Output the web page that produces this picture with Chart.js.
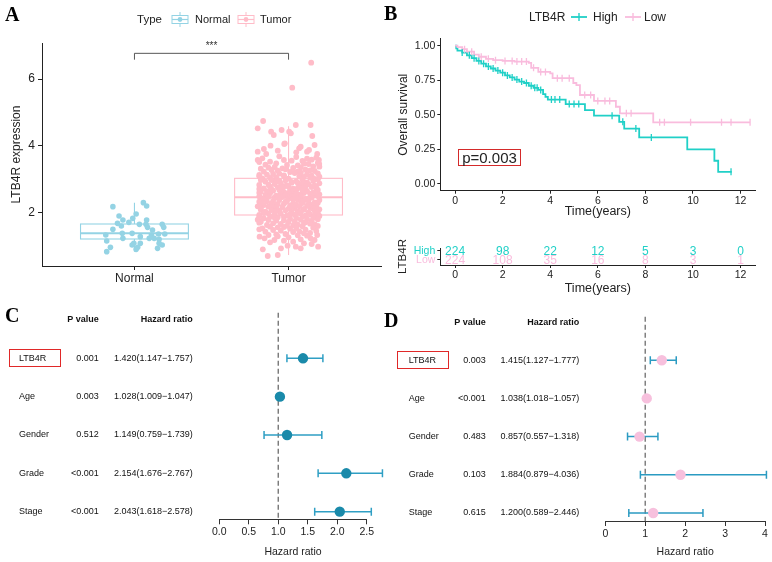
<!DOCTYPE html>
<html><head><meta charset="utf-8">
<script src="https://cdn.jsdelivr.net/npm/chart.js@4.4.0/dist/chart.umd.min.js"></script>
<style>
body{margin:0;background:#fff;width:772px;height:562px;position:relative;overflow:hidden;font-family:"Liberation Sans",Arial,sans-serif;color:#222;}
canvas{position:absolute;}
.abs{position:absolute;white-space:nowrap;line-height:14px;}
.letter{position:absolute;font-family:"Liberation Serif","Times New Roman",serif;font-weight:bold;font-size:20px;line-height:20px;color:#000;}
.redbox{position:absolute;border:1.5px solid #E02828;}
svg{position:absolute;}
</style></head><body>
<canvas id="cA" width="386" height="290" style="left:0;top:0"></canvas>
<canvas id="cB" width="386" height="222" style="left:386px;top:0"></canvas>
<canvas id="cR" width="386" height="78" style="left:386px;top:222px"></canvas>
<canvas id="cC" width="386" height="262" style="left:0;top:300px"></canvas>
<canvas id="cD" width="386" height="262" style="left:386px;top:300px"></canvas>

<div class="letter" style="left:5px;top:4px">A</div>
<div class="letter" style="left:384px;top:3px">B</div>
<div class="letter" style="left:5px;top:305px">C</div>
<div class="letter" style="left:384px;top:310px">D</div>

<!-- legend A -->
<div class="abs" style="left:137px;top:12px;font-size:11.5px">Type</div>
<svg style="left:171px;top:12px" width="18" height="15"><line x1="9" y1="0" x2="9" y2="3.5" stroke="#94D3E4" stroke-width="1"/><line x1="9" y1="11.5" x2="9" y2="15" stroke="#94D3E4" stroke-width="1"/><rect x="1" y="3.5" width="16" height="8" fill="none" stroke="#94D3E4" stroke-width="1"/><line x1="1" y1="7.5" x2="17" y2="7.5" stroke="#94D3E4" stroke-width="1.2"/><circle cx="9" cy="7.5" r="2.4" fill="#94D3E4"/></svg>
<div class="abs" style="left:195px;top:12px;font-size:11px">Normal</div>
<svg style="left:237px;top:12px" width="18" height="15"><line x1="9" y1="0" x2="9" y2="3.5" stroke="#FFBCC8" stroke-width="1"/><line x1="9" y1="11.5" x2="9" y2="15" stroke="#FFBCC8" stroke-width="1"/><rect x="1" y="3.5" width="16" height="8" fill="none" stroke="#FFBCC8" stroke-width="1"/><line x1="1" y1="7.5" x2="17" y2="7.5" stroke="#FFBCC8" stroke-width="1.2"/><circle cx="9" cy="7.5" r="2.4" fill="#FFBCC8"/></svg>
<div class="abs" style="left:260px;top:12px;font-size:11px">Tumor</div>

<!-- legend B -->
<div class="abs" style="left:529px;top:10px;font-size:12px">LTB4R</div>
<svg style="left:571px;top:12px" width="16" height="10"><line x1="0" y1="5" x2="16" y2="5" stroke="#20D0C7" stroke-width="1.8"/><line x1="8" y1="1" x2="8" y2="9" stroke="#20D0C7" stroke-width="1.4"/></svg>
<div class="abs" style="left:593px;top:10px;font-size:12px">High</div>
<svg style="left:625px;top:12px" width="16" height="10"><line x1="0" y1="5" x2="16" y2="5" stroke="#F9BCDD" stroke-width="1.8"/><line x1="8" y1="1" x2="8" y2="9" stroke="#F9BCDD" stroke-width="1.4"/></svg>
<div class="abs" style="left:644px;top:10px;font-size:12px">Low</div>

<div class="abs" style="left:458px;top:149px;width:61px;height:15px;border:1px solid #D42A2A;font-size:15px;line-height:15px;text-align:center">p=0.003</div>

<div class="redbox" style="left:9px;top:349px;width:50px;height:16px"></div>
<div class="redbox" style="left:397px;top:351px;width:50px;height:16px"></div>

<script>
// ---------- Panel A data ----------
const groupNames = ['Normal', 'Tumor'];
const yTicksA = [2, 4, 6];
// [min, q1, median, q3, max]
const normalBox = [0.82, 1.20, 1.37, 1.65, 2.29];
const tumorBox = [0.72, 1.92, 2.45, 3.02, 4.58];
// [expression, jitter]
const normalPoints = [
 [2.17,-0.14],[2.29,0.058],[2.19,0.079],[1.89,-0.10],[1.77,-0.075],[1.95,0.011],[1.82,-0.011],[1.77,0.079],
 [1.70,-0.036],[1.67,-0.11],[1.59,-0.085],[1.64,0.032],[1.64,0.075],[1.64,0.18],[1.55,0.19],[1.49,-0.14],
 [1.47,0.117],[1.37,-0.079],[1.37,-0.015],[1.27,0.038],[1.32,0.11],[1.35,0.156],[1.35,0.197],[1.32,-0.186],
 [1.22,0.096],[1.22,0.128],[1.19,0.16],[1.14,-0.18],[1.07,-0.004],[1.07,0.038],[1.07,0.16],[1.02,0.18],
 [0.95,-0.156],[0.95,0.021],[1.02,-0.015],[0.92,0.15],[0.82,-0.18],[0.89,0.011],[1.22,-0.075],[1.55,0.085]
];
const tumorPoints = [
 [6.49,0.147],[5.74,0.024],[4.74,-0.165],[4.52,-0.2],[4.62,0.047],[4.62,0.143],[4.42,-0.113],[4.47,-0.045],[4.37,0.015],[4.29,0.154],[4.32,-0.096],[4.05,-0.028],[4.0,-0.117],[3.97,0.079],[4.02,0.169],[3.82,-0.2],[3.75,-0.145],[3.85,-0.07],[3.75,0.186],[3.82,0.12],[3.57,-0.2],[3.57,0.197],[3.45,0.199],
 [4.07,-0.024],[3.92,0.069],[3.87,0.133],[4.42,0.004],[3.9,-0.16],[3.8,0.05],
 [0.69,-0.135],[0.72,-0.07],[0.89,-0.167],[0.92,-0.049],[0.97,0.047],[0.92,0.079],[0.97,0.192],[1.07,0.1],[1.0,-0.006],[1.22,-0.156],[1.17,-0.092],[1.19,0.079],[1.22,0.143],[1.32,0.186],
 [1.27,-0.188],[1.17,0.169],[1.12,0.03],[1.1,-0.12],[1.25,0.0],[1.3,0.12],[1.28,-0.07],[1.05,0.15],[1.15,-0.03],
 [3.62,-0.17],[3.66,0.05],[3.61,0.12],[3.68,-0.06],[3.64,0.18],
 [3.52,-0.12],[3.55,0.02],[3.58,0.15],[3.51,-0.19],[3.54,0.09],[3.57,-0.03],
 [3.43,-0.15],[3.41,0.06],[3.47,-0.08],[3.45,0.13],[3.48,0.19],[3.42,-0.01],[3.46,0.1],
 [3.31,-0.18],[3.36,-0.09],[3.33,0.03],[3.38,0.16],[3.35,0.08],[3.32,-0.04],[3.37,0.2],[3.34,-0.13],
 [3.22,-0.16],[3.25,-0.07],[3.21,0.01],[3.28,0.11],[3.24,0.17],[3.27,-0.11],[3.23,0.06],[3.29,-0.02],[3.26,0.14],
 [3.12,-0.19],[3.15,-0.1],[3.11,-0.03],[3.18,0.04],[3.14,0.12],[3.17,0.19],[3.13,-0.14],[3.19,0.08],[3.16,-0.06],[3.1,0.15],
 [3.02,-0.17],[3.05,-0.08],[3.01,0.0],[3.08,0.07],[3.04,0.14],[3.07,0.2],[3.03,-0.12],[3.09,-0.03],[3.06,0.1],[3.0,0.17],[3.08,-0.19],
 [2.92,-0.15],[2.95,-0.06],[2.91,0.02],[2.98,0.09],[2.94,0.16],[2.97,-0.11],[2.93,0.05],[2.99,0.19],[2.96,-0.02],[2.9,0.12],[2.97,-0.18],[2.93,-0.08],
 [2.82,-0.19],[2.85,-0.09],[2.81,-0.01],[2.88,0.06],[2.84,0.13],[2.87,0.2],[2.83,-0.13],[2.89,0.02],[2.86,0.1],[2.8,0.17],[2.87,-0.05],[2.83,0.08],
 [2.72,-0.16],[2.75,-0.07],[2.71,0.03],[2.78,0.11],[2.74,0.18],[2.77,-0.12],[2.73,0.06],[2.79,-0.02],[2.76,0.15],[2.7,-0.19],[2.78,0.0],[2.74,-0.04],[2.71,0.09],
 [2.62,-0.18],[2.65,-0.1],[2.61,-0.03],[2.68,0.05],[2.64,0.12],[2.67,0.19],[2.63,-0.14],[2.69,0.01],[2.66,0.09],[2.6,0.16],[2.67,-0.06],[2.63,0.03],[2.69,-0.11],
 [2.52,-0.15],[2.55,-0.05],[2.51,0.02],[2.58,0.1],[2.54,0.17],[2.57,-0.12],[2.53,0.07],[2.59,-0.19],[2.56,0.14],[2.5,-0.08],[2.58,0.0],[2.54,0.2],[2.51,-0.02],[2.57,0.05],
 [2.42,-0.17],[2.45,-0.09],[2.41,0.0],[2.48,0.08],[2.44,0.15],[2.47,-0.13],[2.43,0.04],[2.49,0.19],[2.46,-0.04],[2.4,0.11],[2.48,-0.19],[2.44,-0.07],[2.41,0.13],[2.47,0.02],
 [2.32,-0.19],[2.35,-0.1],[2.31,-0.02],[2.38,0.06],[2.34,0.13],[2.37,0.2],[2.33,-0.14],[2.39,0.03],[2.36,0.1],[2.3,0.17],[2.37,-0.06],[2.33,0.08],[2.39,-0.16],[2.35,-0.01],
 [2.22,-0.16],[2.25,-0.07],[2.21,0.01],[2.28,0.09],[2.24,0.16],[2.27,-0.11],[2.23,0.05],[2.29,0.19],[2.26,-0.03],[2.2,0.12],[2.28,-0.18],[2.24,-0.09],[2.21,0.14],[2.27,0.03],
 [2.12,-0.18],[2.15,-0.08],[2.11,0.0],[2.18,0.07],[2.14,0.14],[2.17,-0.13],[2.13,0.04],[2.19,0.18],[2.16,-0.04],[2.1,0.1],[2.18,-0.2],[2.14,-0.1],[2.11,0.16],[2.17,0.02],
 [2.02,-0.15],[2.05,-0.06],[2.01,0.02],[2.08,0.1],[2.04,0.17],[2.07,-0.11],[2.03,0.06],[2.09,0.2],[2.06,-0.02],[2.0,0.13],[2.08,-0.18],[2.04,-0.08],[2.01,0.08],
 [1.92,-0.19],[1.95,-0.09],[1.91,-0.01],[1.98,0.07],[1.94,0.14],[1.97,-0.13],[1.93,0.04],[1.99,0.19],[1.96,-0.05],[1.9,0.11],[1.98,-0.16],[1.94,0.01],[1.91,0.17],
 [1.82,-0.16],[1.85,-0.07],[1.81,0.01],[1.88,0.09],[1.84,0.16],[1.87,-0.12],[1.83,0.05],[1.89,0.2],[1.86,-0.03],[1.8,0.12],[1.88,-0.19],[1.84,-0.09],
 [1.72,-0.18],[1.75,-0.08],[1.71,0.0],[1.78,0.08],[1.74,0.15],[1.77,-0.13],[1.73,0.04],[1.79,0.19],[1.76,-0.03],[1.7,0.11],[1.78,-0.2],
 [1.62,-0.14],[1.65,-0.05],[1.61,0.03],[1.68,0.1],[1.64,0.17],[1.67,-0.1],[1.63,0.06],[1.69,-0.19],[1.66,0.14],[1.6,-0.01],
 [1.52,-0.17],[1.55,-0.07],[1.51,0.01],[1.58,0.09],[1.54,0.16],[1.57,-0.12],[1.53,0.05],[1.59,0.19],[1.56,-0.03],
 [1.42,-0.15],[1.45,-0.05],[1.41,0.03],[1.48,0.11],[1.44,0.18],[1.47,-0.1],[1.43,0.07],[1.49,-0.19],
 [1.32,-0.13],[1.35,-0.02],[1.31,0.06],[1.38,0.14],[1.34,-0.08],[1.37,0.1]
];

// ---------- Panel B data ----------
const kmTicksX = [0, 2, 4, 6, 8, 10, 12];
const kmTicksY = [0, 0.25, 0.5, 0.75, 1];
// [time, survival] steps
const highCurve = [
 [0,1.0],[0.05,0.98],[0.1,0.964],[0.3,0.95],[0.5,0.93],[0.7,0.91],[0.9,0.89],[1.1,0.87],[1.3,0.85],[1.5,0.835],
 [1.7,0.82],[1.9,0.805],[2.1,0.785],[2.3,0.77],[2.5,0.755],[2.7,0.74],[2.9,0.73],[3.1,0.71],[3.3,0.695],[3.5,0.68],
 [3.7,0.65],[3.8,0.63],[3.9,0.61],[4.65,0.577],[5.46,0.534],[5.84,0.493],[6.9,0.449],[7.11,0.40],[7.74,0.336],
 [9.76,0.249],[10.9,0.167],[11.06,0.087],[11.63,0.087]
];
const lowCurve = [
 [0,1.0],[0.1,0.99],[0.3,0.975],[0.5,0.957],[0.8,0.935],[1.0,0.92],[1.3,0.905],[1.6,0.895],[2.0,0.89],[2.5,0.885],
 [3.1,0.875],[3.2,0.84],[3.5,0.81],[4.0,0.80],[4.1,0.765],[4.97,0.73],[5.1,0.715],[5.25,0.643],[5.84,0.60],
 [6.76,0.558],[6.93,0.51],[8.33,0.445],[12.4,0.445]
];
const highCensor = [
 [0.3,0.95],[0.6,0.93],[0.8,0.91],[1.0,0.89],[1.2,0.87],[1.4,0.85],[1.6,0.835],[1.8,0.82],[2.0,0.805],[2.2,0.785],
 [2.4,0.77],[2.6,0.755],[2.8,0.74],[3.0,0.73],[3.2,0.71],[3.35,0.695],[3.45,0.695],[3.6,0.68],[4.05,0.61],[4.2,0.61],
 [4.4,0.61],[4.8,0.577],[5.0,0.577],[5.2,0.577],[6.6,0.493],[7.05,0.449],[7.6,0.40],[8.25,0.336],[11.6,0.087]
];
const lowCensor = [
 [0.4,0.975],[0.7,0.957],[1.1,0.92],[1.4,0.905],[1.7,0.895],[2.1,0.89],[2.4,0.89],[2.6,0.885],[2.8,0.885],[3.0,0.885],
 [3.3,0.84],[3.6,0.81],[3.8,0.81],[4.3,0.765],[4.5,0.765],[4.8,0.765],[5.45,0.643],[5.7,0.643],[6.0,0.60],[6.3,0.60],
 [6.5,0.60],[7.2,0.51],[7.4,0.51],[8.6,0.445],[8.8,0.445],[9.9,0.445],[11.2,0.445],[11.6,0.445],[12.4,0.445]
];
const riskTimes = [0, 2, 4, 6, 8, 10, 12];
const riskHigh = [224, 98, 22, 12, 5, 3, 0];
const riskLow = [224, 108, 35, 16, 8, 3, 1];

// ---------- Panels C / D data ----------
const forestVars = ['LTB4R', 'Age', 'Gender', 'Grade', 'Stage'];
const pC = ['0.001', '0.003', '0.512', '<0.001', '<0.001'];
const hrC = [1.420, 1.028, 1.149, 2.154, 2.043];
const loC = [1.147, 1.009, 0.759, 1.676, 1.618];
const hiC = [1.757, 1.047, 1.739, 2.767, 2.578];
const ticksC = [0, 0.5, 1.0, 1.5, 2.0, 2.5];
const pD = ['0.003', '<0.001', '0.483', '0.103', '0.615'];
const hrD = [1.415, 1.038, 0.857, 1.884, 1.200];
const loD = [1.127, 1.018, 0.557, 0.879, 0.589];
const hiD = [1.777, 1.057, 1.318, 4.036, 2.446];
const ticksD = [0, 1, 2, 3, 4];

// ---------- styles ----------
const NORMAL_C = '#94D3E4', TUMOR_C = '#FFBCC8';
const HIGH_C = '#20D0C7', LOW_C = '#F9BCDD';
const AX = '#222';
const FONT = "'Liberation Sans', Arial, Helvetica, sans-serif";
Chart.defaults.font.family = FONT;
Chart.defaults.color = AX;

const base = {responsive:false, devicePixelRatio:1, animation:false,
  plugins:{legend:{display:false}, tooltip:{enabled:false}}};
function axis(extra){
  return Object.assign({type:'linear', grid:{drawOnChartArea:false, color:AX, tickLength:4},
    border:{display:true, color:AX, width:1}}, extra);
}

// ---------- A ----------
const boxPlugin = {
  id:'boxes',
  beforeDatasetsDraw(chart){
    const {ctx, scales:{x, y}} = chart;
    [[normalBox, NORMAL_C], [tumorBox, TUMOR_C]].forEach(([s, col], i) => {
      const cx = x.getPixelForValue(i + 1);
      const hw = x.getPixelForValue(i + 1.35) - cx;
      ctx.save(); ctx.strokeStyle = col; ctx.lineWidth = 1.1;
      ctx.beginPath();
      ctx.moveTo(cx, y.getPixelForValue(s[3])); ctx.lineTo(cx, y.getPixelForValue(s[4]));
      ctx.moveTo(cx, y.getPixelForValue(s[1])); ctx.lineTo(cx, y.getPixelForValue(s[0]));
      ctx.stroke();
      ctx.strokeRect(cx - hw, y.getPixelForValue(s[3]), 2 * hw, y.getPixelForValue(s[1]) - y.getPixelForValue(s[3]));
      ctx.lineWidth = 2;
      ctx.beginPath(); ctx.moveTo(cx - hw, y.getPixelForValue(s[2])); ctx.lineTo(cx + hw, y.getPixelForValue(s[2])); ctx.stroke();
      ctx.restore();
    });
  },
  afterDatasetsDraw(chart){
    const {ctx, scales:{x, y}} = chart;
    const x1 = x.getPixelForValue(1), x2 = x.getPixelForValue(2);
    const yb = y.getPixelForValue(6.77), yt = y.getPixelForValue(6.58);
    ctx.save(); ctx.strokeStyle = '#444'; ctx.lineWidth = 0.9;
    ctx.beginPath(); ctx.moveTo(x1, yt); ctx.lineTo(x1, yb); ctx.lineTo(x2, yb); ctx.lineTo(x2, yt); ctx.stroke();
    ctx.fillStyle = '#333'; ctx.font = '10px ' + FONT; ctx.textAlign = 'center'; ctx.textBaseline = 'middle';
    ctx.fillText('***', (x1 + x2) / 2, y.getPixelForValue(7.0) + 1);
    ctx.restore();
  }
};
new Chart(document.getElementById('cA'), {
  type:'scatter',
  data:{datasets:[
    {data: normalPoints.map(p => ({x: 1 + p[1], y: p[0]})), backgroundColor: NORMAL_C, pointRadius: 2.8, borderWidth: 0},
    {data: tumorPoints.map(p => ({x: 2 + p[1], y: p[0]})), backgroundColor: TUMOR_C, pointRadius: 2.9, borderWidth: 0}
  ]},
  options: Object.assign({}, base, {
    layout:{padding:{left:6, top:43, right:5, bottom:0}},
    scales:{
      x: axis({min:0.4, max:2.6, afterFit(s){ s.height = 24; },
        afterBuildTicks(s){ s.ticks = [{value:1}, {value:2}]; },
        ticks:{callback:(v) => groupNames[Math.round(v) - 1], font:{size:12}, padding:1, maxRotation:0, autoSkip:false}}),
      y: axis({min:0.39, max:7.08, afterFit(s){ s.width = 36; },
        afterBuildTicks(s){ s.ticks = yTicksA.map(v => ({value:v})); },
        ticks:{font:{size:12}, padding:3},
        title:{display:true, text:'LTB4R expression', font:{size:12}, padding:{top:3, bottom:2}}})
    }
  }),
  plugins:[boxPlugin]
});

// ---------- B: KM ----------
const toXY = arr => arr.map(p => ({x: p[0], y: p[1]}));
new Chart(document.getElementById('cB'), {
  type:'line',
  data:{datasets:[
    {data: toXY(lowCensor), showLine:false, pointStyle:'line', rotation:90, pointRadius:3.5, borderColor: LOW_C, borderWidth:1.3},
    {data: toXY(highCensor), showLine:false, pointStyle:'line', rotation:90, pointRadius:3.5, borderColor: HIGH_C, borderWidth:1.3},
    {data: toXY(lowCurve), stepped:true, pointRadius:0, borderColor: LOW_C, borderWidth:1.8, fill:false},
    {data: toXY(highCurve), stepped:true, pointRadius:0, borderColor: HIGH_C, borderWidth:1.8, fill:false}
  ]},
  options: Object.assign({}, base, {
    layout:{padding:{left:6, top:38.8, right:16.7, bottom:0}},
    scales:{
      x: axis({min:-0.62, max:12.62, afterFit(s){ s.height = 31.3; },
        afterBuildTicks(s){ s.ticks = kmTicksX.map(v => ({value:v})); },
        grid:{drawOnChartArea:false, color:AX, tickLength:3},
        ticks:{font:{size:10.5}, padding:1, maxRotation:0, autoSkip:false},
        title:{display:true, text:'Time(years)', font:{size:12.5}, padding:{top:0, bottom:3}}}),
      y: axis({min:-0.05, max:1.05, afterFit(s){ s.width = 48.3; },
        afterBuildTicks(s){ s.ticks = kmTicksY.map(v => ({value:v})); },
        grid:{drawOnChartArea:false, color:AX, tickLength:3},
        ticks:{font:{size:10.5}, padding:2, callback:(v) => v.toFixed(2)},
        title:{display:true, text:'Overall survival', font:{size:12}, padding:{top:4, bottom:2}}})
    }
  })
});

// ---------- B: risk table ----------
const riskPlugin = {
  id:'risk',
  afterDraw(chart){
    const {ctx, scales:{x, y}} = chart;
    ctx.save(); ctx.font = '12px ' + FONT; ctx.textAlign = 'center'; ctx.textBaseline = 'middle';
    riskTimes.forEach((t, i) => {
      const px = x.getPixelForValue(t);
      ctx.fillStyle = LOW_C; ctx.fillText(String(riskLow[i]), px, y.getPixelForValue(0) + 0.5);
      ctx.fillStyle = HIGH_C; ctx.fillText(String(riskHigh[i]), px, y.getPixelForValue(1) + 0.5);
    });
    ctx.restore();
  }
};
new Chart(document.getElementById('cR'), {
  type:'scatter',
  data:{datasets:[{data:[], pointRadius:0}]},
  options: Object.assign({}, base, {
    layout:{padding:{left:6, top:26, right:16.7, bottom:0}},
    scales:{
      x: axis({min:-0.62, max:12.62, afterFit(s){ s.height = 35; },
        afterBuildTicks(s){ s.ticks = riskTimes.map(v => ({value:v})); },
        grid:{drawOnChartArea:false, color:AX, tickLength:3},
        ticks:{font:{size:10.5}, padding:1, maxRotation:0, autoSkip:false},
        title:{display:true, text:'Time(years)', font:{size:12.5}, padding:{top:0, bottom:4}}}),
      y: axis({min:-0.54, max:1.29, afterFit(s){ s.width = 48.3; },
        afterBuildTicks(s){ s.ticks = [{value:0}, {value:1}]; },
        grid:{drawOnChartArea:false, color:AX, tickLength:3},
        ticks:{font:{size:10.5}, padding:2, callback:(v) => v === 1 ? 'High' : 'Low',
          color:(c) => c.tick && c.tick.value === 1 ? HIGH_C : LOW_C},
        title:{display:true, text:'LTB4R', font:{size:11.5}, padding:{top:4, bottom:0}}})
    }
  }),
  plugins:[riskPlugin]
});

// ---------- C / D: forest ----------
const fmt = v => v.toFixed(3);
function forestPlugin(o){
  return {
    id:'forest' + o.id,
    beforeDatasetsDraw(chart){
      const {ctx, chartArea:a, scales:{x, y}} = chart;
      ctx.save();
      ctx.strokeStyle = '#777'; ctx.lineWidth = 1.4; ctx.setLineDash([5, 3]);
      const x1 = x.getPixelForValue(1);
      ctx.beginPath(); ctx.moveTo(x1, a.top); ctx.lineTo(x1, a.bottom); ctx.stroke();
      ctx.setLineDash([]);
      ctx.strokeStyle = o.lineColor; ctx.lineWidth = 1.5;
      o.lo.forEach((lo, i) => {
        const yy = y.getPixelForValue(forestVars.length - i);
        const xl = x.getPixelForValue(lo), xh = x.getPixelForValue(o.hi[i]);
        ctx.beginPath();
        ctx.moveTo(xl, yy); ctx.lineTo(xh, yy);
        ctx.moveTo(xl, yy - 4); ctx.lineTo(xl, yy + 4);
        ctx.moveTo(xh, yy - 4); ctx.lineTo(xh, yy + 4);
        ctx.stroke();
      });
      ctx.restore();
    },
    afterDraw(chart){
      const {ctx, scales:{y}} = chart;
      ctx.save(); ctx.fillStyle = '#111'; ctx.textBaseline = 'middle';
      const hy = y.getPixelForValue(forestVars.length + 1);
      ctx.font = 'bold 9px ' + FONT;
      ctx.textAlign = 'right';
      ctx.fillText('P value', o.colP, hy);
      ctx.fillText('Hazard ratio', o.colHR, hy);
      ctx.font = '9px ' + FONT;
      forestVars.forEach((v, i) => {
        const yy = y.getPixelForValue(forestVars.length - i);
        ctx.textAlign = 'left'; ctx.fillText(v, o.colLabel, yy);
        ctx.textAlign = 'right'; ctx.fillText(o.p[i], o.colP, yy);
        ctx.fillText(fmt(o.hr[i]) + '(' + fmt(o.lo[i]) + '\u2212' + fmt(o.hi[i]) + ')', o.colHR, yy);
      });
      ctx.restore();
    }
  };
}
function forestChart(id, o){
  new Chart(document.getElementById(id), {
    type:'scatter',
    data:{datasets:[{data: o.hr.map((v, i) => ({x: v, y: forestVars.length - i})),
      backgroundColor: o.dotColor, pointRadius: 5.2, borderWidth: 0, clip: false}]},
    options: Object.assign({}, base, {
      layout:{padding:{left:219.3, right:o.padRight, top:o.padTop, bottom:0}},
      scales:{
        x: axis({min:o.ticks[0], max:o.ticks[o.ticks.length - 1], afterFit(s){ s.height = o.xh; },
          afterBuildTicks(s){ s.ticks = o.ticks.map(v => ({value:v})); },
          grid:{drawOnChartArea:false, color:'#333', tickLength:5},
          border:{display:true, color:'#333', width:1},
          ticks:{font:{size:10.5}, padding:2, maxRotation:0, autoSkip:false, callback:o.tickFmt},
          title:{display:true, text:'Hazard ratio', font:{size:10.5}, padding:{top:0, bottom:4}}}),
        y: {type:'linear', display:false, min:o.ymin, max:o.ymax}
      }
    }),
    plugins:[forestPlugin(o)]
  });
}
forestChart('cC', {id:'C', p:pC, hr:hrC, lo:loC, hi:hiC, ticks:ticksC, tickFmt:(v) => v.toFixed(1),
  dotColor:'#1A8AAA', lineColor:'#2F9FC4', padRight:19.3, padTop:12.7, xh:42.7, ymin:0.8, ymax:6.19,
  colLabel:19, colP:98.7, colHR:192.7});
forestChart('cD', {id:'D', p:pD, hr:hrD, lo:loD, hi:hiD, ticks:ticksD, tickFmt:(v) => String(v),
  dotColor:'#F7C0DD', lineColor:'#2B9BC2', padRight:7, padTop:16.7, xh:41, ymin:0.79, ymax:6.14,
  colLabel:22.7, colP:99.7, colHR:193.3});
</script>
</body></html>
